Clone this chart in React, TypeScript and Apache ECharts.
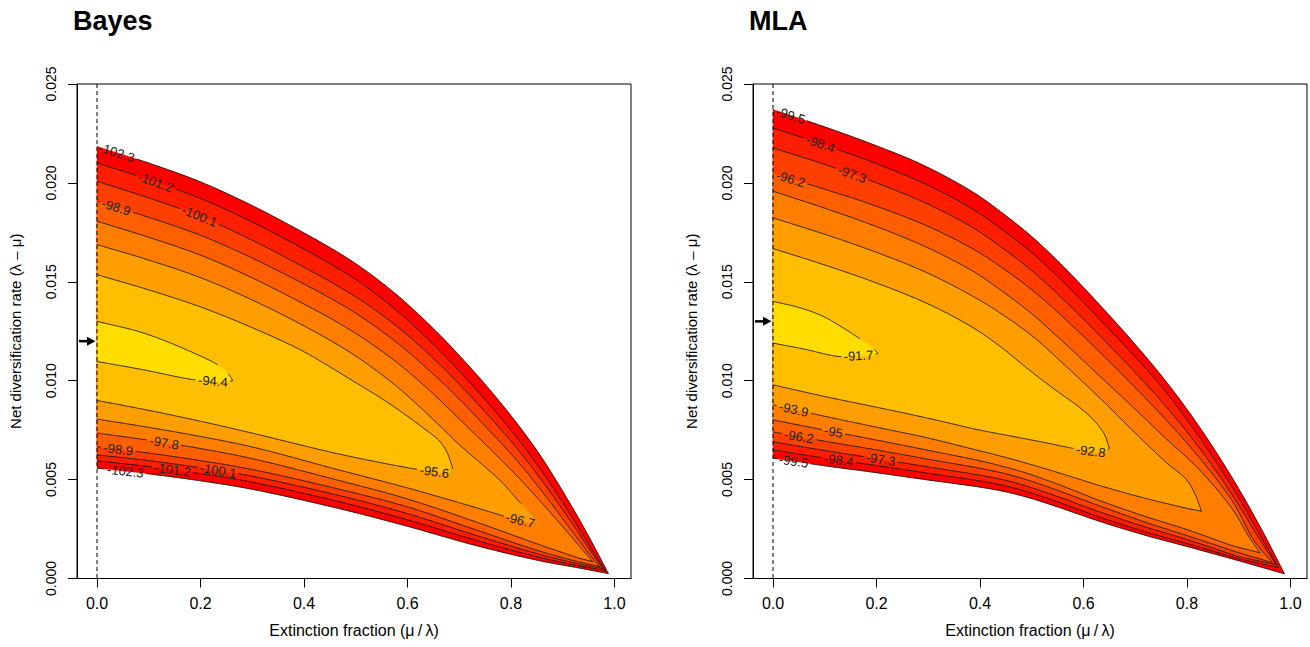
import React, { useEffect, useRef } from "react";
import * as echarts from "echarts";

const FONT = "'Liberation Sans', Arial, Helvetica, sans-serif";

// ---------- axes ----------
const xTicks = [0, 0.2, 0.4, 0.6, 0.8, 1.0];
const yTicks = [0, 0.005, 0.01, 0.015, 0.02, 0.025];
const X_MIN = -0.0387;
const X_MAX = 1.0319;
const Y_MIN = 0;
const Y_MAX = 0.025;
const xTitle = "Extinction fraction (\u03bc\u2009/\u2009\u03bb)";
const yTitle = "Net diversification rate (\u03bb \u2013 \u03bc)";
const panelTitles = ["Bayes", "MLA"];

// ---------- Bayes contours (levels, upper branch, lower branch) ----------
const bayesLevels = [-102.3, -101.2, -100.1, -98.9, -97.8, -96.7, -95.6, -94.4];
const bayesUpper = [
  [[0, .02185], [.1, .021], [.2, .02005], [.3, .01885], [.393, .01757], [.47, .01642], [.522, .01551], [.586, .01419], [.65, .01263], [.702, .01122], [.754, .00969], [.805, .00806], [.857, .0062], [.921, .00348], [.96, .00165], [.988, .00025]],
  [[0, .02101], [.1, .02016], [.2, .01921], [.3, .01802], [.393, .01675], [.47, .01561], [.522, .01471], [.586, .01339], [.65, .01183], [.702, .01043], [.754, .00892], [.805, .00733], [.857, .00552], [.921, .00298], [.96, .0013], [.982, .0004]],
  [[0, .02008], [.1, .01924], [.2, .0183], [.3, .0171], [.393, .01583], [.47, .01472], [.522, .01386], [.586, .01261], [.65, .01113], [.702, .00977], [.754, .00831], [.805, .00678], [.857, .00505], [.921, .00268], [.96, .00115], [.978, .0005]],
  [[0, .01907], [.1, .01826], [.2, .01735], [.3, .0162], [.393, .01498], [.47, .01389], [.522, .01303], [.586, .01179], [.65, .01033], [.702, .00902], [.754, .00759], [.805, .00616], [.857, .0045], [.921, .00228], [.955, .0011], [.972, .0006]],
  [[0, .01806], [.1, .01725], [.2, .01635], [.3, .0152], [.393, .01397], [.47, .01287], [.522, .01201], [.586, .01079], [.65, .00933], [.702, .00802], [.754, .00669], [.805, .00536], [.857, .0039], [.921, .00198], [.958, .00085]],
  [[0, .01688], [.1, .0161], [.2, .01521], [.3, .01408], [.393, .01287], [.47, .01174], [.522, .01085], [.586, .00956], [.65, .00803], [.702, .00672], [.754, .00555], [.785, .0048], [.812, .004], [.833, .0034], [.85, .0029]],
  [[0, .01536], [.1, .01459], [.2, .01373], [.3, .01268], [.393, .01156], [.45, .0107], [.5, .0099], [.553, .00905], [.6, .0082], [.631, .0076], [.66, .007], [.676, .0064], [.687, .0056]],
  [[0, .013], [.09, .01241], [.187, .0114], [.238, .01072], [.258, .0102], [.262, .01]],
];
const bayesLower = [
  [[0, .00558], [.1, .00529], [.2, .00494], [.3, .00451], [.47, .00352], [.6, .00264], [.73, .00168], [.857, .00089], [.93, .00054]],
  [[0, .00595], [.1, .00566], [.2, .0053], [.3, .00487], [.47, .00387], [.6, .00297], [.73, .00195], [.857, .00106], [.93, .00064]],
  [[0, .00625], [.1, .00596], [.2, .0056], [.3, .00517], [.47, .00418], [.6, .00328], [.73, .0022], [.857, .00121], [.93, .00074]],
  [[0, .00666], [.1, .00634], [.2, .00596], [.3, .00551], [.47, .0045], [.6, .00362], [.73, .00248], [.857, .00137], [.93, .00084]],
  [[0, .00735], [.1, .00699], [.2, .00657], [.3, .00606], [.47, .00494], [.6, .00402], [.73, .00288], [.857, .00169], [.93, .00104]],
  [[0, .00806], [.1, .00764], [.2, .00718], [.3, .00665], [.47, .00547], [.6, .00458], [.73, .0036], [.8, .00305], [.84, .0028]],
  [[0, .009], [.1, .0085], [.2, .00795], [.3, .00735], [.47, .00628], [.618, .00552], [.68, .0053]],
  [[0, .01097], [.09, .01055], [.187, .01005], [.25, .00993]],
];
// [level index, branch (0 upper, 1 lower), x position]
const bayesLabels = [
  [0, 0, .038], [1, 0, .113], [2, 0, .198], [3, 0, .037], [7, 1, .224],
  [3, 1, .041], [4, 1, .13], [0, 1, .055], [1, 1, .146], [2, 1, .234], [6, 1, .652], [5, 1, .818],
];
const bayesArrowY = 0.012;

// ---------- MLA contours ----------
const mlaLevels = [-99.5, -98.4, -97.3, -96.2, -95, -93.9, -92.8, -91.7];
const mlaUpper = [
  [[0, .02371], [.0966, .02286], [.1933, .02194], [.29, .0209], [.3866, .01953], [.438, .01858], [.502, .01724], [.567, .01561], [.631, .01384], [.695, .01198], [.76, .00994], [.824, .00766], [.888, .00506], [.941, .00263], [.968, .00128], [.988, .00024]],
  [[0, .02278], [.1, .02191], [.2, .02097], [.3, .01987], [.3866, .01866], [.438, .01773], [.502, .01642], [.567, .01483], [.631, .01311], [.695, .01134], [.76, .0094], [.824, .00713], [.888, .0046], [.941, .0022], [.977, .00055]],
  [[0, .02177], [.1, .02093], [.2, .02], [.3, .01892], [.3866, .01773], [.438, .01681], [.502, .01552], [.567, .01396], [.631, .01229], [.695, .01055], [.76, .00868], [.824, .0066], [.888, .0042], [.94, .002], [.972, .0007]],
  [[0, .02046], [.1, .01968], [.2, .01882], [.3, .0178], [.3866, .01666], [.438, .0158], [.502, .01456], [.567, .01306], [.631, .01146], [.695, .00978], [.76, .00801], [.824, .0061], [.888, .0039], [.93, .0019], [.965, .0008]],
  [[0, .01958], [.1, .01872], [.2, .01779], [.3, .01671], [.3866, .01553], [.438, .01462], [.502, .01334], [.567, .01181], [.631, .01024], [.695, .00868], [.76, .00706], [.824, .0055], [.888, .0035], [.92, .0021], [.941, .0013]],
  [[0, .01823], [.1, .0174], [.2, .01649], [.3, .01543], [.3866, .01426], [.438, .01344], [.502, .01224], [.567, .01071], [.631, .00914], [.695, .00748], [.76, .00586], [.799, .005], [.815, .0043], [.824, .0037], [.828, .0034]],
  [[0, .01668], [.1, .01585], [.2, .01494], [.3, .01388], [.3866, .01268], [.438, .01175], [.502, .0104], [.55, .00945], [.59, .0087], [.62, .008], [.64, .0073], [.65, .0066]],
  [[0, .01401], [.05, .0137], [.097, .01325], [.161, .01224], [.19, .0117], [.203, .0114]],
];
const mlaLower = [
  [[0, .00608], [.1, .0057], [.2, .00535], [.3, .00498], [.4, .00462], [.45, .00438], [.5, .00404], [.56, .00353], [.631, .00289], [.72, .00218], [.8, .00162], [.9, .0009]],
  [[0, .0065], [.1, .00609], [.2, .00571], [.3, .00532], [.4, .00493], [.45, .00468], [.5, .00432], [.56, .00378], [.631, .00311], [.72, .00236], [.8, .00177], [.9, .001]],
  [[0, .00691], [.1, .00647], [.2, .00606], [.3, .00564], [.4, .00522], [.45, .00496], [.5, .00459], [.56, .00405], [.631, .00337], [.72, .0026], [.8, .00197], [.9, .0011]],
  [[0, .00741], [.1, .00694], [.2, .0065], [.3, .00603], [.4, .00557], [.45, .00529], [.5, .00491], [.56, .00436], [.631, .00367], [.72, .00284], [.8, .00217], [.9, .0013]],
  [[0, .00802], [.1, .0075], [.2, .007], [.3, .00648], [.4, .00595], [.45, .00563], [.5, .00524], [.56, .00467], [.631, .00394], [.72, .00313], [.8, .00247], [.888, .00165]],
  [[0, .00878], [.1, .0082], [.2, .00765], [.3, .0071], [.4, .00645], [.45, .00612], [.5, .00575], [.56, .00528], [.631, .0047], [.72, .00405], [.799, .00355]],
  [[0, .00979], [.1, .0092], [.2, .00866], [.3, .0081], [.4, .0075], [.46, .0072], [.52, .0069], [.586, .00655], [.625, .0064], [.645, .0064]],
  [[0, .0119], [.06, .0116], [.129, .01122], [.195, .0113]],
];
const mlaLabels = [
  [0, 0, .034], [1, 0, .092], [2, 0, .153], [3, 0, .034], [7, 1, .165],
  [5, 1, .04], [4, 1, .117], [3, 1, .05], [0, 1, .04], [1, 1, .127], [2, 1, .208], [6, 1, .614],
];
const mlaArrowY = 0.013;

// ---------- styles ----------
const bandColors = ["#FF0000", "#FF1F00", "#FF3F00", "#FF5F00", "#FF7E00", "#FF9E00", "#FFBE00", "#FFDD00"];
const LABEL_SIZE = 13;

type Pt = number[];

function interpY(branch: Pt[], x: number): number {
  if (x <= branch[0][0]) return branch[0][1];
  for (let i = 0; i < branch.length - 1; i++) {
    const a = branch[i], b = branch[i + 1];
    if (x >= a[0] && x <= b[0]) {
      const t = (x - a[0]) / (b[0] - a[0] || 1);
      return a[1] + (b[1] - a[1]) * t;
    }
  }
  return branch[branch.length - 1][1];
}

// centripetal Catmull-Rom drawn through the given pixel points
function smoothPath(pts: Pt[], seg = 8): Pt[] {
  if (pts.length < 3) return pts;
  const n = pts.length;
  const first = [2 * pts[0][0] - pts[1][0], 2 * pts[0][1] - pts[1][1]];
  const last = [2 * pts[n - 1][0] - pts[n - 2][0], 2 * pts[n - 1][1] - pts[n - 2][1]];
  const P = [first, ...pts, last];
  const d = (a: Pt, b: Pt) => Math.max(Math.sqrt(Math.hypot(b[0] - a[0], b[1] - a[1])), 1e-4);
  const out: Pt[] = [];
  for (let i = 1; i < P.length - 2; i++) {
    const p0 = P[i - 1], p1 = P[i], p2 = P[i + 1], p3 = P[i + 2];
    const t0 = 0, t1 = t0 + d(p0, p1), t2 = t1 + d(p1, p2), t3 = t2 + d(p2, p3);
    for (let j = i === 1 ? 0 : 1; j <= seg; j++) {
      const t = t1 + ((t2 - t1) * j) / seg;
      const mix = (a: Pt, b: Pt, ta: number, tb: number) => [
        ((tb - t) * a[0] + (t - ta) * b[0]) / (tb - ta),
        ((tb - t) * a[1] + (t - ta) * b[1]) / (tb - ta),
      ];
      const A1 = mix(p0, p1, t0, t1);
      const A2 = mix(p1, p2, t1, t2);
      const A3 = mix(p2, p3, t2, t3);
      const B1 = mix(A1, A2, t0, t2);
      const B2 = mix(A2, A3, t1, t3);
      out.push(mix(B1, B2, t1, t2));
    }
  }
  return out;
}

function textWidth(s: string, size: number): number {
  let w = 0;
  for (const c of s) w += c === "." ? 0.278 : c === "-" ? 0.333 : 0.556;
  return w * size;
}

function cutPolyline(pts: Pt[], gaps: { cx: number; cy: number; r: number }[]): Pt[][] {
  const runs: Pt[][] = [];
  let cur: Pt[] = [];
  for (let i = 0; i < pts.length - 1; i++) {
    const [x0, y0] = pts[i];
    const [x1, y1] = pts[i + 1];
    const len = Math.hypot(x1 - x0, y1 - y0);
    const n = Math.max(1, Math.ceil(len));
    for (let j = i === 0 ? 0 : 1; j <= n; j++) {
      const t = j / n;
      const p = [x0 + (x1 - x0) * t, y0 + (y1 - y0) * t];
      const hidden = gaps.some((g) => Math.hypot(p[0] - g.cx, p[1] - g.cy) < g.r);
      if (hidden) {
        if (cur.length > 1) runs.push(cur);
        cur = [];
      } else cur.push(p);
    }
  }
  if (cur.length > 1) runs.push(cur);
  return runs;
}

const panels = [
  { levels: bayesLevels, upper: bayesUpper, lower: bayesLower, labels: bayesLabels, arrowY: bayesArrowY },
  { levels: mlaLevels, upper: mlaUpper, lower: mlaLower, labels: mlaLabels, arrowY: mlaArrowY },
];

function contourPixels(p: any, k: number, api: any): Pt[] {
  const up = smoothPath(p.upper[k].map((d: Pt) => api.coord(d)));
  const lo = smoothPath(p.lower[k].map((d: Pt) => api.coord(d)));
  return [...up, ...lo.reverse()];
}

export default function App() {
  const ref = useRef<HTMLDivElement>(null);

  useEffect(() => {
    if (!ref.current) return;
    const chart = echarts.init(ref.current, undefined, { renderer: "svg" });
    const gridLefts = [77, 753];
    const xFont = { color: "#000", fontFamily: FONT, fontSize: 16 };
    const yFont = { color: "#000", fontFamily: FONT, fontSize: 14 };

    const series: any[] = [];
    panels.forEach((p, gi) => {
      series.push({
        type: "custom",
        coordinateSystem: "cartesian2d",
        xAxisIndex: gi,
        yAxisIndex: gi,
        silent: true,
        clip: false,
        z: 1,
        data: p.levels.map(() => [0, 0]),
        renderItem: (params: any, api: any) => {
          const k = params.dataIndex;
          const pts = contourPixels(p, k, api);
          return {
            type: "polygon",
            shape: { points: pts },
            style: { fill: bandColors[k], stroke: bandColors[k], lineWidth: 0.4 },
          };
        },
      });
      series.push({
        type: "custom",
        coordinateSystem: "cartesian2d",
        xAxisIndex: gi,
        yAxisIndex: gi,
        silent: true,
        clip: false,
        z: 2,
        data: p.levels.map(() => [0, 0]),
        renderItem: (params: any, api: any) => {
          const k = params.dataIndex;
          const text = String(p.levels[k]);
          const gaps: { cx: number; cy: number; r: number }[] = [];
          const texts: any[] = [];
          p.labels
            .filter((l: number[]) => l[0] === k)
            .forEach((l: number[]) => {
              const branch = l[1] === 0 ? p.upper[k] : p.lower[k];
              const x = l[2];
              const c = api.coord([x, interpY(branch, x)]);
              const a = api.coord([x - 0.015, interpY(branch, x - 0.015)]);
              const b = api.coord([x + 0.015, interpY(branch, x + 0.015)]);
              const rot = Math.atan2(-(b[1] - a[1]), b[0] - a[0]);
              const w = textWidth(text, LABEL_SIZE);
              gaps.push({ cx: c[0], cy: c[1], r: w / 2 + 2 });
              texts.push({
                type: "text",
                x: c[0],
                y: c[1],
                rotation: rot,
                style: {
                  text,
                  fill: "#222",
                  fontSize: LABEL_SIZE,
                  fontFamily: FONT,
                  align: "center",
                  verticalAlign: "middle",
                },
              });
            });
          const pix = contourPixels(p, k, api);
          const runs = cutPolyline(pix, gaps);
          const lines = runs.map((r) => ({
            type: "polyline",
            shape: { points: r },
            style: { stroke: "#111", lineWidth: 0.9, fill: null },
          }));
          return { type: "group", children: [...lines, ...texts] };
        },
      });
      series.push({
        type: "custom",
        coordinateSystem: "cartesian2d",
        xAxisIndex: gi,
        yAxisIndex: gi,
        silent: true,
        clip: false,
        z: 3,
        data: [[0, p.arrowY]],
        renderItem: (params: any, api: any) => {
          const top = api.coord([0, Y_MAX]);
          const bot = api.coord([0, Y_MIN]);
          const a = api.coord([0, api.value(1)]);
          return {
            type: "group",
            children: [
              {
                type: "line",
                shape: { x1: top[0], y1: top[1], x2: bot[0], y2: bot[1] },
                style: { stroke: "#000", lineWidth: 1, lineDash: [4, 3] },
              },
              {
                type: "line",
                shape: { x1: a[0] - 18, y1: a[1], x2: a[0] - 8, y2: a[1] },
                style: { stroke: "#000", lineWidth: 2.5 },
              },
              {
                type: "polygon",
                shape: { points: [[a[0] - 1.5, a[1]], [a[0] - 10, a[1] - 4.5], [a[0] - 10, a[1] + 4.5]] },
                style: { fill: "#000" },
              },
            ],
          };
        },
      });
    });

    const option: any = {
      animation: false,
      backgroundColor: "#fff",
      title: panelTitles.map((t, i) => ({
        text: t,
        left: gridLefts[i] - 4,
        top: 7,
        padding: 0,
        textStyle: { fontSize: 27, fontWeight: "bold", color: "#000", fontFamily: FONT },
      })),
      grid: gridLefts.map((l) => ({
        left: l,
        top: 84,
        width: 554,
        height: 494.5,
        show: true,
        borderColor: "#000",
        borderWidth: 1,
        backgroundColor: "transparent",
        containLabel: false,
      })),
      xAxis: gridLefts.map((_, i) => ({
        type: "value",
        gridIndex: i,
        min: X_MIN,
        max: X_MAX,
        axisLine: { show: true, onZero: false, lineStyle: { color: "#000", width: 1 } },
        splitLine: { show: false },
        axisTick: { show: true, length: 9, customValues: xTicks, lineStyle: { color: "#000", width: 1 } },
        axisLabel: {
          ...xFont,
          customValues: xTicks,
          margin: 17,
          formatter: (v: number) => v.toFixed(1),
        },
        name: xTitle,
        nameLocation: "middle",
        nameGap: 44,
        nameTextStyle: { ...xFont },
      })),
      yAxis: gridLefts.map((_, i) => ({
        type: "value",
        gridIndex: i,
        min: Y_MIN,
        max: Y_MAX,
        axisLine: { show: true, onZero: false, lineStyle: { color: "#000", width: 1 } },
        splitLine: { show: false },
        axisTick: { show: true, length: 9, customValues: yTicks, lineStyle: { color: "#000", width: 1 } },
        axisLabel: {
          ...yFont,
          customValues: yTicks,
          rotate: 90,
          margin: 19,
          formatter: (v: number) => v.toFixed(3),
        },
        name: yTitle,
        nameLocation: "middle",
        nameGap: 54,
        nameTextStyle: { ...yFont, fontSize: 15 },
      })),
      series,
    };
    chart.setOption(option);
    return () => chart.dispose();
  }, []);

  return (
    <div
      ref={ref}
      style={{ position: "absolute", left: 0, top: 0, width: 1310, height: 647, background: "#fff" }}
    />
  );
}
